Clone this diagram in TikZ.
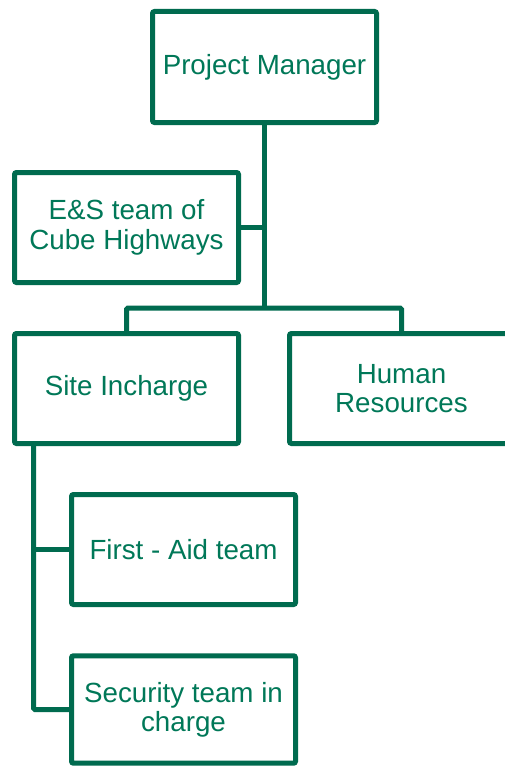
\documentclass[tikz,border=0pt]{standalone}
\usepackage{fontspec}
\setmainfont{Liberation Sans}
\usetikzlibrary{calc}
\definecolor{lineg}{RGB}{0,107,79}
\definecolor{textg}{RGB}{0,120,88}
\begin{document}
\begin{tikzpicture}[x=0.75pt,y=-0.75pt,
  orgbox/.style={draw=lineg, line width=3.75pt, rounded corners=1.5pt, fill=white,
    minimum width=168pt, minimum height=82.5pt, inner sep=0pt, align=center,
    text=textg, font=\fontsize{20.8pt}{22pt}\selectfont},
  link/.style={draw=lineg, line width=3.75pt, rounded corners=1pt}]
\useasboundingbox (0,0) rectangle (505,767);
\fill[white] (0,0) rectangle (505,767);
\node[orgbox, minimum height=83.25pt] (pm) at (264.5,67) {Project Manager};
\node[orgbox] (es) at (126.5,227.5) {E\&S team of\\Cube Highways};
\node[orgbox] (site) at (126.5,388.5) {Site Incharge};
\node[orgbox] (hr) at (401.5,388.5) {Human\\Resources};
\node[orgbox] (fa) at (183.5,549.5) {First - Aid team};
\node[orgbox, minimum height=80.6pt] (sec) at (183.5,709.5) {Security team in\\charge};
\coordinate (j) at (264.5,308);
\coordinate (sb) at ($(site.south west)+(21.5,0)$);
\draw[link] (pm.south) -- (j);
\draw[link] (es.east) -- (es.east -| pm.south);
\draw[link] (site.north) |- (j) -| (hr.north);
\draw[link] (sb) |- (sec.west);
\draw[link] (fa.west -| sb) -- (fa.west);
\end{tikzpicture}
\end{document}
